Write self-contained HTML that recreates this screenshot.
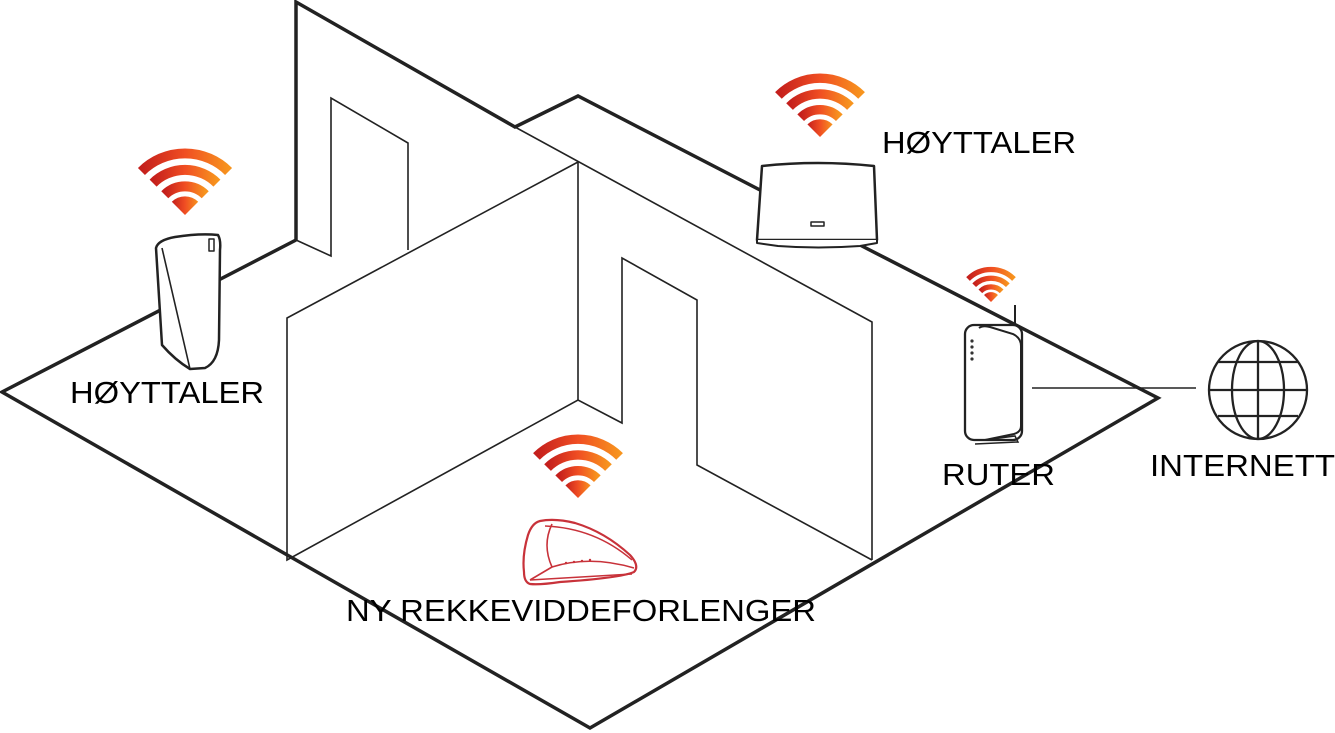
<!DOCTYPE html>
<html><head><meta charset="utf-8">
<style>
html,body{margin:0;padding:0;background:#fff;}
svg{display:block;}
text{font-family:"Liberation Sans",sans-serif;font-size:31px;fill:#000;}
</style></head>
<body>
<svg width="1335" height="733" viewBox="0 0 1335 733" xmlns="http://www.w3.org/2000/svg">
<defs>
<linearGradient id="g" x1="0" x2="1" y1="0" y2="0">
<stop offset="0" stop-color="#c41f1c"/><stop offset="0.5" stop-color="#f04e23"/><stop offset="1" stop-color="#f7941e"/>
</linearGradient>
<g id="wifi">
<path d="M0,0 L-12,-12 A17,17 0 0 1 12,-12 Z" fill="url(#g)"/>
<path d="M-18.4,-18.4 A26,26 0 0 1 18.4,-18.4" fill="none" stroke="url(#g)" stroke-width="9"/>
<path d="M-29,-29 A41,41 0 0 1 29,-29" fill="none" stroke="url(#g)" stroke-width="9"/>
<path d="M-39.6,-39.6 A56,56 0 0 1 39.6,-39.6" fill="none" stroke="url(#g)" stroke-width="9"/>
</g>
</defs>

<g stroke="#222" stroke-width="3.5" fill="none" stroke-linejoin="miter">
<path d="M296,240 L296,2 L515,127 L578,96 L760,190"/>
<path d="M860,245 L1158,398 L590,728 L2,392 L296,240"/>
</g>
<g stroke="#222" stroke-width="1.6" fill="none">
<path d="M296,240 L331,256 L331,98 L408,143 L408,250"/>
<path d="M515,127 L872,322 L872,560"/>
<path d="M578,162 L578,400"/>
<path d="M578,162 L287,318 L287,560 L578,400 L622,423 L622,258 L697,300 L697,465 L872,560"/>
<path d="M1032,388 L1196,388"/>
</g>

<g stroke="#222" stroke-width="2.5" fill="#fff" stroke-linejoin="round">
<path d="M156,248 Q158,240 175,237 Q200,233 218,235 Q221,240 220,250 L219,340 Q218,362 205,368 L190,369 Q175,360 162,345 Z"/>
<path d="M162,248 L190,369" fill="none" stroke-width="1.6"/>
<rect x="209" y="239" width="5" height="12" stroke-width="1.5"/>
</g>

<g stroke="#222" stroke-width="2.5" fill="#fff" stroke-linejoin="round">
<path d="M762,166 Q818,160 874,166 L877,240 L757,240 Z"/>
<path d="M757,240 L757,243 L778,246 Q818,249 860,246 L877,243 L877,240" stroke-width="2"/>
<rect x="811" y="222" width="13" height="4" stroke-width="1.5"/>
</g>

<g stroke="#222" stroke-width="2.3" fill="#fff">
<line x1="1015" y1="305" x2="1015" y2="333" stroke-width="2"/>
<rect x="965" y="325" width="57" height="115" rx="9"/>
<path d="M979,328 Q983,325 990,327 L1013,334 Q1021,338 1021,346 L1021,426 Q1021,432 1014,434 L985,440" fill="none" stroke-width="2"/>
<path d="M985,440 L1015,436 L1018,442 L975,444" fill="none" stroke-width="1.5"/>
<g fill="#333" stroke="none"><circle cx="972" cy="341" r="1.6"/><circle cx="972" cy="347" r="1.6"/><circle cx="972" cy="353" r="1.6"/><circle cx="972" cy="359" r="1.6"/></g>
</g>

<g stroke="#222" stroke-width="2.3" fill="none">
<circle cx="1258" cy="390" r="49"/>
<ellipse cx="1258" cy="390" rx="26" ry="49"/>
<line x1="1258" y1="341" x2="1258" y2="439"/>
<line x1="1209" y1="390" x2="1307" y2="390"/>
<line x1="1218" y1="362" x2="1298" y2="362"/>
<line x1="1218" y1="416" x2="1298" y2="416"/>
</g>

<g stroke="#c8323a" stroke-width="2.2" fill="#fff" stroke-linejoin="round">
<path d="M540,521 Q555,518 575,523 Q605,532 630,555 Q640,566 634,572 Q620,578 560,582 Q540,585 530,584 Q524,582 524,572 Q522,555 528,535 Q532,523 540,521 Z"/>
<path d="M552,524 Q542,545 552,567 L530,580" fill="none" stroke-width="1.6"/>
<path d="M552,567 Q590,555 634,568" fill="none" stroke-width="1.6"/>
<path d="M530,580 L632,574" fill="none" stroke-width="1.4"/>
<path d="M545,526 Q595,528 632,560" fill="none" stroke-width="1.4"/>
<g fill="#c8323a" stroke="none"><circle cx="566" cy="563" r="1.2"/><circle cx="574" cy="562" r="1.2"/><circle cx="582" cy="561" r="1.2"/><circle cx="590" cy="560" r="1.2"/></g>
</g>

<use href="#wifi" transform="translate(185,215) scale(1.1)"/>
<use href="#wifi" transform="translate(820,137) scale(1.05)"/>
<use href="#wifi" transform="translate(991,302) scale(0.58)"/>
<use href="#wifi" transform="translate(578,498) scale(1.05)"/>

<text x="70" y="403" textLength="194" lengthAdjust="spacingAndGlyphs">HØYTTALER</text>
<text x="882" y="153" textLength="194" lengthAdjust="spacingAndGlyphs">HØYTTALER</text>
<text x="942" y="485" textLength="113" lengthAdjust="spacingAndGlyphs">RUTER</text>
<text x="1150" y="476" textLength="185" lengthAdjust="spacingAndGlyphs">INTERNETT</text>
<text x="346" y="621" textLength="470" lengthAdjust="spacingAndGlyphs">NY REKKEVIDDEFORLENGER</text>
</svg>
</body></html>
